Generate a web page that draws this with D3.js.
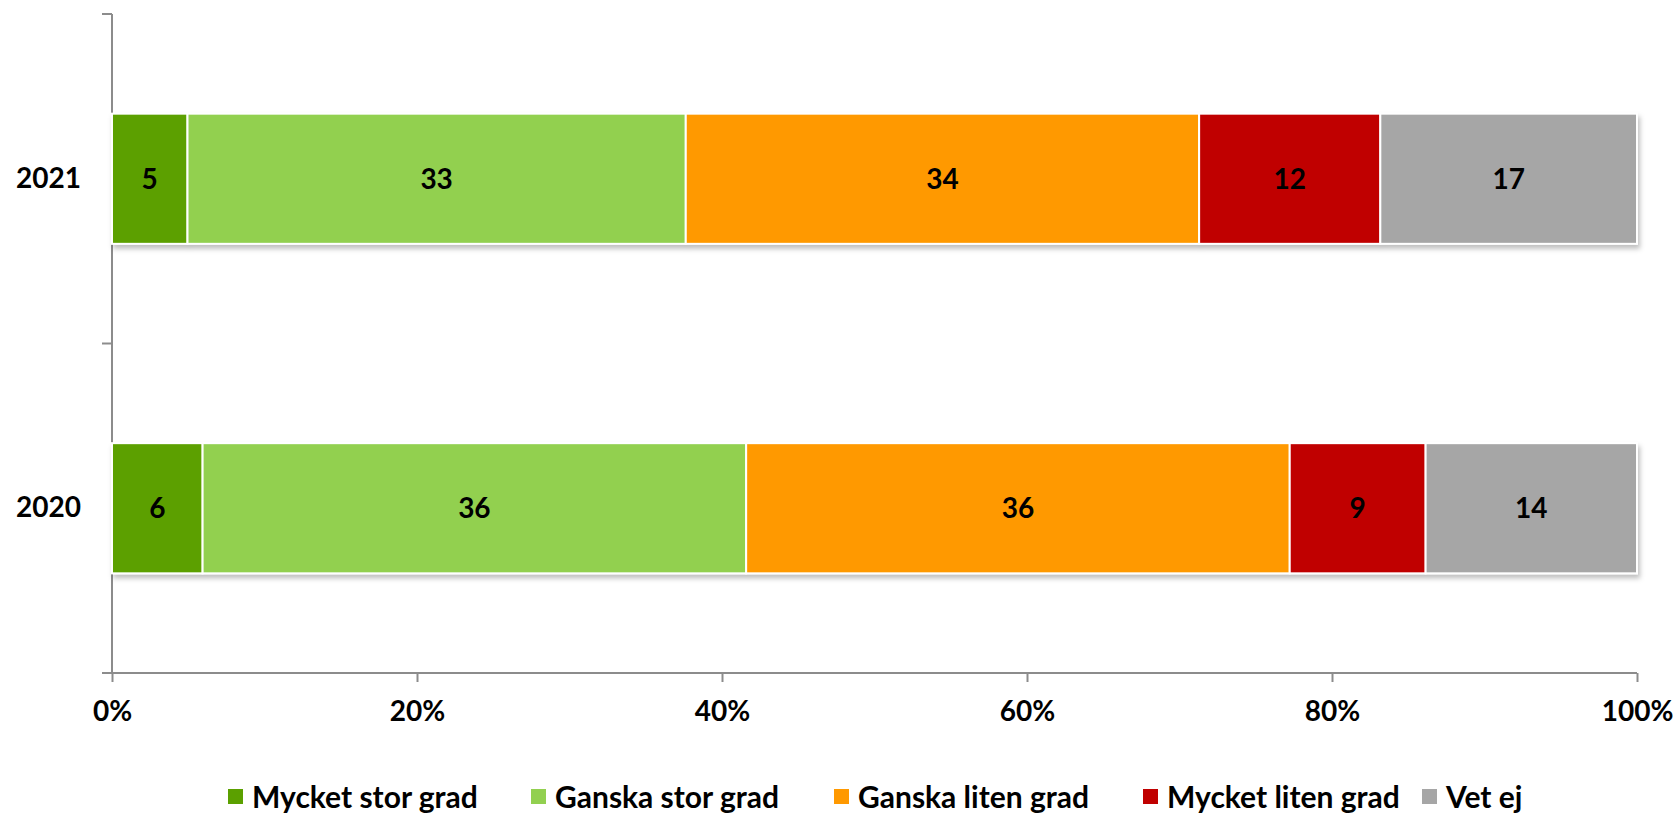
<!DOCTYPE html>
<html>
<head>
<meta charset="utf-8">
<script src="https://cdn.jsdelivr.net/npm/d3@7"></script>
<style>
  body { margin: 0; background: #fff; }
  text { font-family: Lato, "Open Sans", sans-serif; font-weight: bold; fill: #000; }
</style>
</head>
<body>
<div id="chart"></div>
<script>
// data
var years = ["2021", "2020"];
var categories = ["Mycket stor grad", "Ganska stor grad", "Ganska liten grad", "Mycket liten grad", "Vet ej"];
var colors = ["#5BA000", "#92D050", "#FF9900", "#C00000", "#A6A6A6"];
var values2021 = [5, 33, 34, 12, 17];
var values2020 = [6, 36, 36, 9, 14];
var xTicks = [0, 0.2, 0.4, 0.6, 0.8, 1];

// set the dimensions and margins of the graph
var margin = {top: 14, right: 39, bottom: 142, left: 112},
    width = 1676 - margin.left - margin.right,
    height = 815 - margin.top - margin.bottom;

var svg = d3.select("#chart")
  .append("svg")
    .attr("width", width + margin.left + margin.right)
    .attr("height", height + margin.top + margin.bottom)
  .append("g")
    .attr("transform", "translate(" + margin.left + "," + margin.top + ")");

// soft shadow under the bars
var filter = svg.append("defs").append("filter")
    .attr("id", "shadow")
    .attr("x", "-5%").attr("y", "-10%")
    .attr("width", "110%").attr("height", "130%");
filter.append("feDropShadow")
    .attr("dx", 2).attr("dy", 4)
    .attr("stdDeviation", 2.5)
    .attr("flood-color", "#000")
    .attr("flood-opacity", 0.25);

// build stacked rows (100% stacked)
var rows = [values2021, values2020].map(function(vals, i) {
  var total = d3.sum(vals);
  var acc = 0;
  return {
    year: years[i],
    segs: vals.map(function(v, j) {
      var s = {v: v, x0: acc / total, x1: (acc + v) / total, color: colors[j]};
      acc += v;
      return s;
    })
  };
});

var x = d3.scaleLinear()
  .domain([0, 1])
  .range([0, width]);

var y = d3.scaleBand()
  .domain(years)
  .range([0, height])
  .padding(0);

var barH = y.bandwidth() * 0.395;

// axes
var xAxis = svg.append("g")
  .attr("transform", "translate(0," + height + ")")
  .call(d3.axisBottom(x).tickValues(xTicks).tickFormat(d3.format(".0%")).tickSize(9).tickPadding(19));
xAxis.select(".domain").attr("stroke", "#8c8c8c").attr("stroke-width", 2).attr("d", "M0,0H" + width);
xAxis.selectAll(".tick line").attr("stroke", "#8c8c8c").attr("stroke-width", 2);
xAxis.selectAll("text").style("font-size", "28px").attr("fill", "#000");

var yAxis = svg.append("g")
  .call(d3.axisLeft(y).tickSize(0).tickPadding(31));
yAxis.select(".domain").attr("stroke", "#8c8c8c").attr("stroke-width", 2).attr("d", "M0,0V" + height);
yAxis.selectAll("text").style("font-size", "28px").attr("fill", "#000");

// band boundary ticks on the y axis
svg.append("g")
  .selectAll("line")
  .data([0, 1, 2])
  .enter().append("line")
    .attr("x1", -10).attr("x2", 0)
    .attr("y1", function(d) { return d * y.step(); })
    .attr("y2", function(d) { return d * y.step(); })
    .attr("stroke", "#8c8c8c")
    .attr("stroke-width", 2);

// bars
var row = svg.selectAll(".row")
  .data(rows)
  .enter().append("g")
    .attr("class", "row")
    .attr("transform", function(d) {
      return "translate(0," + (y(d.year) + (y.bandwidth() - barH) / 2) + ")";
    });

row.append("g")
  .attr("filter", "url(#shadow)")
  .selectAll("rect")
  .data(function(d) { return d.segs; })
  .enter().append("rect")
    .attr("x", function(d) { return x(d.x0); })
    .attr("width", function(d) { return x(d.x1) - x(d.x0); })
    .attr("y", 0)
    .attr("height", barH)
    .attr("fill", function(d) { return d.color; })
    .attr("stroke", "#fff")
    .attr("stroke-width", 2);

row.selectAll(".lbl")
  .data(function(d) { return d.segs; })
  .enter().append("text")
    .attr("class", "lbl")
    .attr("x", function(d) { return (x(d.x0) + x(d.x1)) / 2; })
    .attr("y", barH / 2)
    .attr("dy", "0.36em")
    .attr("text-anchor", "middle")
    .style("font-size", "28px")
    .text(function(d) { return d.v; });

// legend
var legendX = [228, 531, 834, 1143, 1422];
var legend = d3.select("svg").append("g")
  .selectAll("g")
  .data(categories)
  .enter().append("g")
    .attr("transform", function(d, i) { return "translate(" + legendX[i] + ",789)"; });
legend.append("rect")
  .attr("width", 15).attr("height", 15)
  .attr("fill", function(d, i) { return colors[i]; });
legend.append("text")
  .attr("x", 24)
  .attr("y", 19)
  .style("font-size", "30px")
  .text(function(d) { return d; });
</script>
</body>
</html>
